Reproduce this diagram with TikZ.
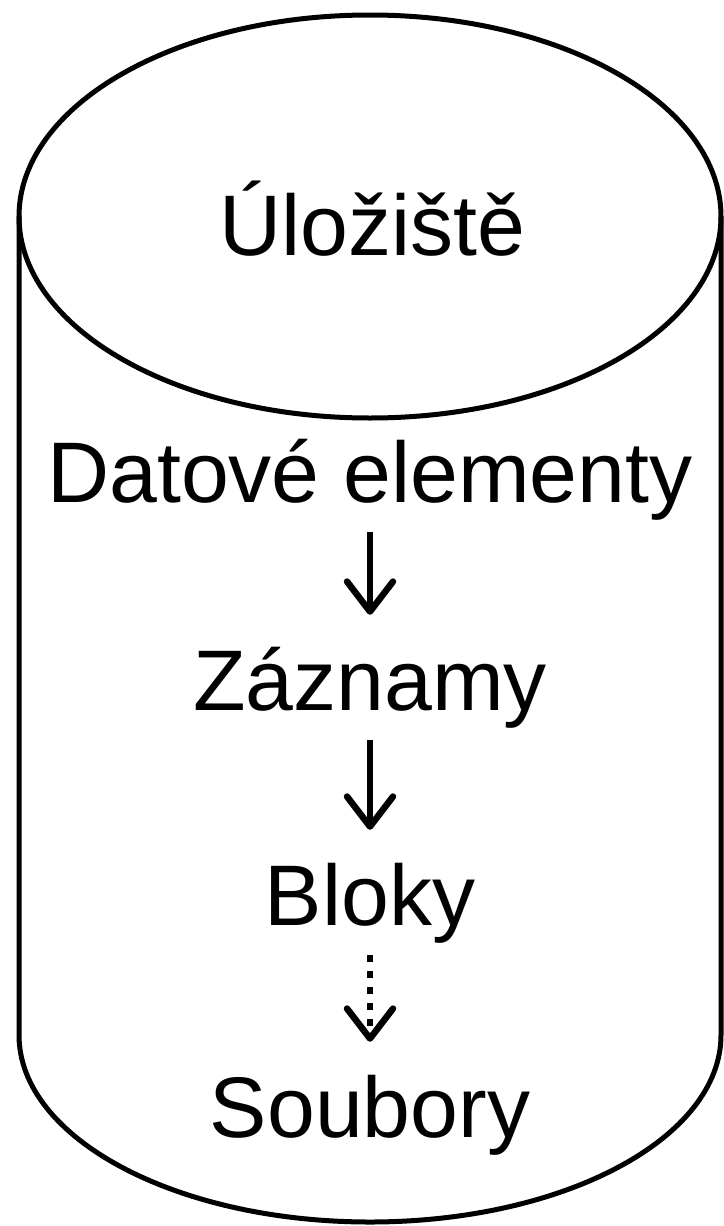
\documentclass[tikz,border=0pt]{standalone}
\usepackage{fontspec}
\setmainfont{Liberation Sans}
\usetikzlibrary{arrows.meta}
\begin{document}
\begin{tikzpicture}[x=1pt,y=-1pt,
  outline/.style={draw=black, line width=5pt},
  lbl/.style={anchor=base, inner sep=0pt, font=\fontsize{86}{100}\selectfont, text height=62pt, text depth=18pt},
  flow/.style={line width=6.5pt, -{Straight Barb[length=30pt,width=46pt,round]}, shorten <=12pt, shorten >=33pt},
  dots/.style={flow, dash pattern=on 7pt off 9pt}]
\useasboundingbox (0,0) rectangle (723,1226);
\draw[outline] (370,216.5) ellipse [x radius=351, y radius=201.5];
\draw[outline] (19,216.5) -- (19,1035) arc[start angle=180, end angle=0, x radius=351, y radius=187] -- (721,216.5);
\node[lbl] (sto) at (372,255) {Úložiště};
\node[lbl] (dat) at (370,502) {Datové elementy};
\node[lbl] (zaz) at (370,710) {Záznamy};
\node[lbl] (blo) at (370,925) {Bloky};
\node[lbl] (sou) at (370,1137) {Soubory};
\draw[flow] (dat.south) -- (zaz.north);
\draw[flow] (zaz.south) -- (blo.north);
\draw[dots] (blo.south) -- (sou.north);
\end{tikzpicture}
\end{document}
